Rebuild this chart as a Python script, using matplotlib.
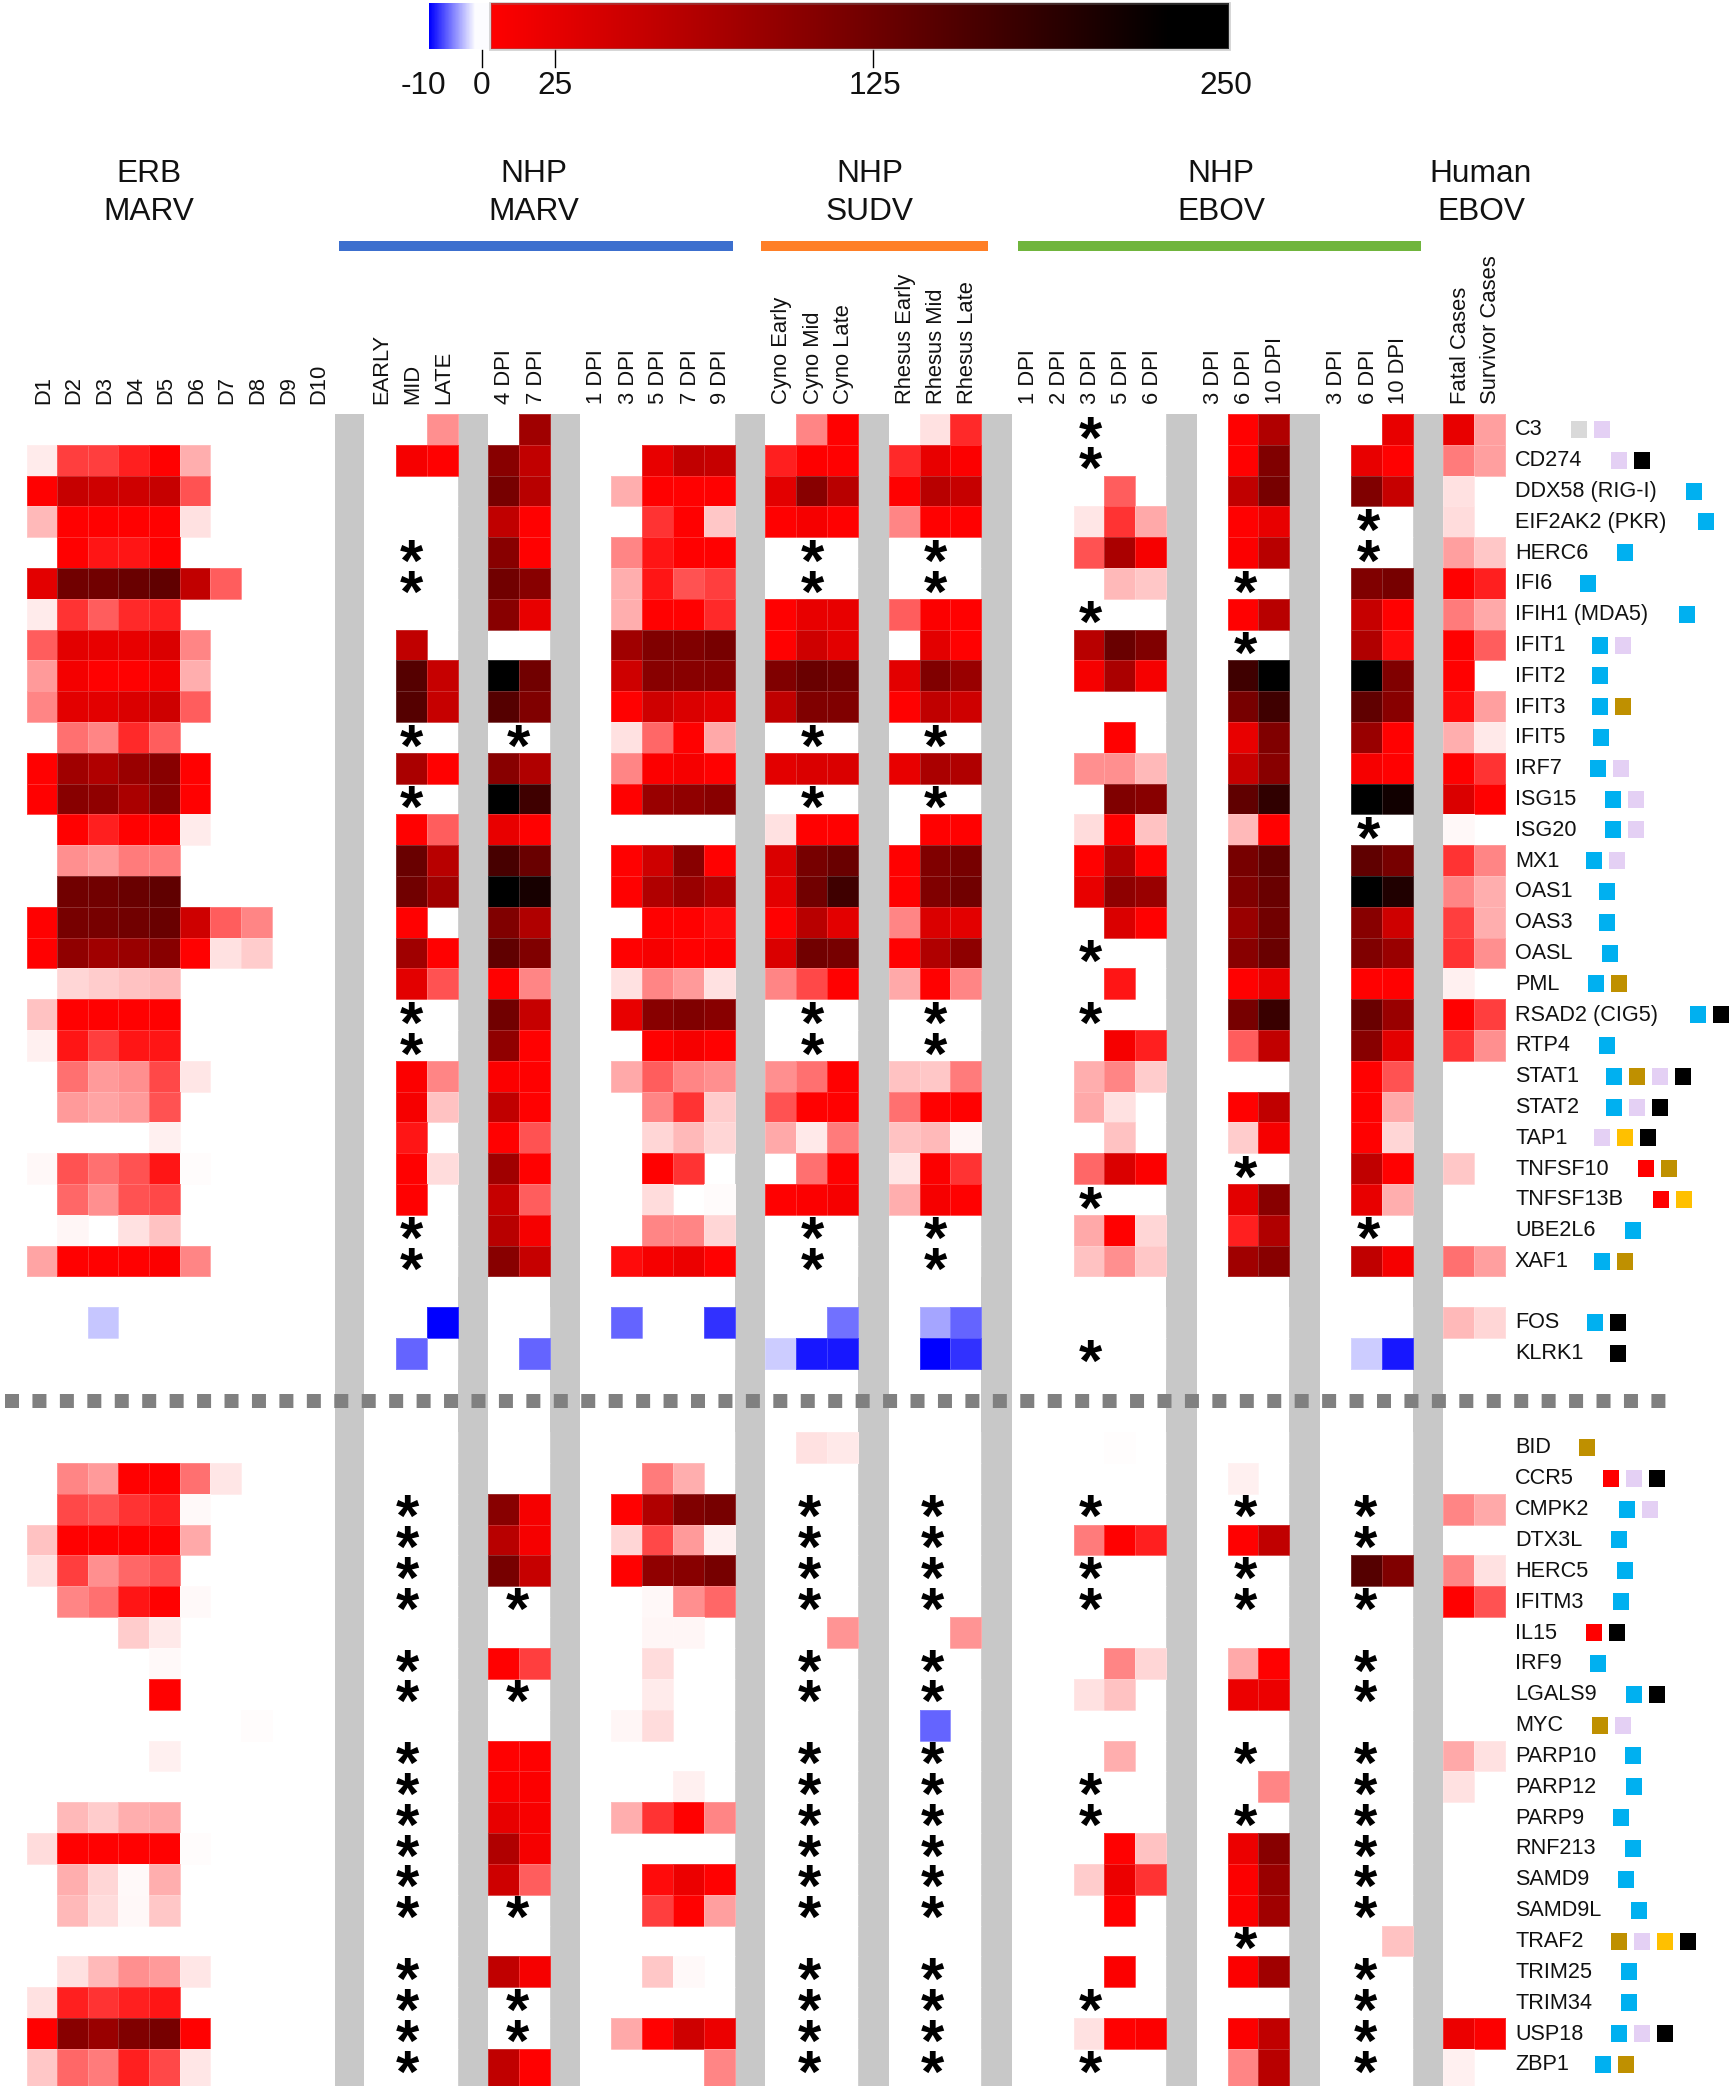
import numpy as np
import matplotlib
matplotlib.use("Agg")
import matplotlib.pyplot as plt
from matplotlib.colors import LinearSegmentedColormap, Normalize
from matplotlib.patches import Rectangle

plt.rcParams['font.family'] = ['Liberation Sans', 'DejaVu Sans']

### genes, row by row ###
genes = ['C3', 'CD274', 'DDX58 (RIG-I)', 'EIF2AK2 (PKR)', 'HERC6', 'IFI6', 'IFIH1 (MDA5)', 'IFIT1', 'IFIT2', 'IFIT3',
         'IFIT5', 'IRF7', 'ISG15', 'ISG20', 'MX1', 'OAS1', 'OAS3', 'OASL', 'PML', 'RSAD2 (CIG5)', 'RTP4', 'STAT1',
         'STAT2', 'TAP1', 'TNFSF10', 'TNFSF13B', 'UBE2L6', 'XAF1', 'FOS', 'KLRK1',
         'BID', 'CCR5', 'CMPK2', 'DTX3L', 'HERC5', 'IFITM3', 'IL15', 'IRF9', 'LGALS9', 'MYC', 'PARP10', 'PARP12',
         'PARP9', 'RNF213', 'SAMD9', 'SAMD9L', 'TRAF2', 'TRIM25', 'TRIM34', 'USP18', 'ZBP1']

### fold change values, one list per panel, same gene order ###
erb_cols = ['D1', 'D2', 'D3', 'D4', 'D5', 'D6', 'D7', 'D8', 'D9', 'D10']
erb = [
    [0, 0, 0, 0, 0, 0, 0, 0, 0, 0], [2, 19, 19, 22, 25, 8, 0, 0, 0, 0], [25, 75, 68, 68, 75, 17, 0, 0, 0, 0],
    [7, 25, 25, 25, 25, 3, 0, 0, 0, 0], [0, 25, 23, 23, 25, 0, 0, 0, 0, 0], [50, 150, 150, 157, 165, 80, 16, 0, 0, 0],
    [2, 20, 16, 21, 22, 0, 0, 0, 0, 0], [16, 50, 45, 45, 58, 12, 0, 0, 0, 0], [10, 35, 25, 25, 35, 8, 0, 0, 0, 0],
    [12, 50, 50, 58, 68, 16, 0, 0, 0, 0], [0, 14, 12, 21, 16, 0, 0, 0, 0, 0], [25, 109, 95, 115, 130, 25, 0, 0, 0, 0],
    [25, 130, 123, 100, 130, 25, 0, 0, 0, 0], [0, 25, 22, 25, 25, 2, 0, 0, 0, 0], [0, 11, 10, 13, 13, 0, 0, 0, 0, 0],
    [0, 150, 150, 157, 165, 0, 0, 0, 0, 0], [25, 145, 145, 150, 157, 68, 16, 12, 0, 0],
    [25, 123, 109, 115, 130, 25, 3, 5, 0, 0], [0, 4, 5, 6, 7, 0, 0, 0, 0, 0], [6, 25, 25, 25, 25, 0, 0, 0, 0, 0],
    [1.5, 23, 19, 23, 23, 0, 0, 0, 0, 0], [0, 14, 10, 11, 18, 2.5, 0, 0, 0, 0], [0, 10, 9, 10, 17, 0, 0, 0, 0, 0],
    [0, 0, 0, 0, 1.5, 0, 0, 0, 0, 0], [0.7, 17, 14, 17, 23, 0.4, 0, 0, 0, 0], [0, 15, 11, 17, 18, 0, 0, 0, 0, 0],
    [0, 1, 0, 3, 6, 0, 0, 0, 0, 0], [9, 25, 25, 25, 28, 12, 0, 0, 0, 0], [0, 0, -2.2, 0, 0, 0, 0, 0, 0, 0],
    [0, 0, 0, 0, 0, 0, 0, 0, 0, 0],
    [0, 0, 0, 0, 0, 0, 0, 0, 0, 0], [0, 12, 10, 25, 25, 14, 2.5, 0, 0, 0], [0, 18, 17, 20, 22, 0.6, 0, 0, 0, 0],
    [6, 25, 25, 25, 25, 8.5, 0, 0, 0, 0], [3, 19, 11, 15, 17, 0, 0, 0, 0, 0], [0, 12, 14, 23, 25, 0.6, 0, 0, 0, 0],
    [0, 0, 0, 5, 2.2, 0, 0, 0, 0, 0], [0, 0, 0, 0, 0.6, 0, 0, 0, 0, 0], [0, 0, 0, 0, 25, 0, 0, 0, 0, 0],
    [0, 0, 0, 0, 0, 0, 0, 0.4, 0, 0], [0, 0, 0, 0, 1.5, 0, 0, 0, 0, 0], [0, 0, 0, 0, 0, 0, 0, 0, 0, 0],
    [0, 7, 5, 8, 8.5, 0, 0, 0, 0, 0], [3.5, 25, 25, 25, 25, 0.4, 0, 0, 0, 0], [0, 8, 4, 0.6, 8, 0, 0, 0, 0, 0],
    [0, 7, 3.5, 0.7, 5.5, 0, 0, 0, 0, 0], [0, 0, 0, 0, 0, 0, 0, 0, 0, 0], [0, 3, 7, 11, 10, 2.5, 0, 0, 0, 0],
    [3, 22, 20, 22, 23, 0, 0, 0, 0, 0], [25, 130, 115, 137, 145, 25, 0, 0, 0, 0], [5.5, 15, 13, 22, 18, 2.5, 0, 0, 0, 0],
]

stage_cols = ['EARLY', 'MID', 'LATE']
marv_stage = [
    [0, 0, 11], [0, 33, 25], [0, 0, 0], [0, 0, 0], [0, 0, 0], [0, 0, 0], [0, 0, 0], [0, 81, 0], [0, 175, 75],
    [0, 175, 75], [0, 0, 0], [0, 100, 25], [0, 0, 0], [0, 25, 16], [0, 157, 88], [0, 150, 109], [0, 25, 0],
    [0, 109, 25], [0, 50, 17], [0, 0, 0], [0, 0, 0], [0, 28, 12], [0, 33, 6], [0, 23, 0], [0, 25, 3.5], [0, 25, 0],
    [0, 0, 0], [0, 0, 0], [0, 0, -10], [0, -6, 0],
    [0, 0, 0], [0, 0, 0], [0, 0, 0], [0, 0, 0], [0, 0, 0], [0, 0, 0], [0, 0, 0], [0, 0, 0], [0, 0, 0], [0, 0, 0],
    [0, 0, 0], [0, 0, 0], [0, 0, 0], [0, 0, 0], [0, 0, 0], [0, 0, 0], [0, 0, 0], [0, 0, 0], [0, 0, 0], [0, 0, 0],
    [0, 0, 0],
]

d47_cols = ['4 DPI', '7 DPI']
marv_d47 = [
    [0, 109], [130, 80], [145, 88], [81, 25], [130, 25], [150, 130], [130, 45], [0, 0], [250, 150], [175, 137],
    [0, 0], [130, 95], [250, 194], [45, 25], [187, 157], [250, 230], [137, 95], [165, 137], [25, 12], [150, 75],
    [123, 25], [28, 25], [81, 25], [25, 17], [109, 25], [75, 16], [88, 33], [130, 75], [0, 0], [0, -6],
    [0, 0], [0, 0], [130, 33], [88, 33], [145, 75], [0, 0], [0, 0], [25, 19], [0, 0], [0, 0], [25, 25], [28, 28],
    [45, 30], [95, 33], [68, 16], [0, 0], [0, 0], [81, 33], [0, 0], [0, 0], [81, 25],
]

marv_cols = ['1 DPI', '3 DPI', '5 DPI', '7 DPI', '9 DPI']
marv_time = [
    [0, 0, 0, 0, 0], [0, 0, 45, 80, 75], [0, 8, 25, 25, 25], [0, 0, 20, 25, 5.5], [0, 12, 23, 25, 25],
    [0, 8, 23, 17, 19], [0, 8, 25, 25, 21], [0, 109, 137, 137, 145], [0, 68, 130, 130, 130], [0, 25, 68, 58, 50],
    [0, 3, 15, 25, 8.5], [0, 12, 28, 33, 25], [0, 25, 115, 123, 130], [0, 0, 0, 0, 0], [0, 25, 68, 130, 25],
    [0, 25, 95, 115, 95], [0, 0, 25, 25, 24], [0, 25, 33, 25, 28], [0, 3, 12, 10, 3], [0, 45, 130, 137, 130],
    [0, 0, 25, 33, 25], [0, 8.5, 16, 12, 11], [0, 0, 12, 20, 5], [0, 0, 4, 7, 4], [0, 0, 25, 20, 0],
    [0, 0, 3.5, 0, 0.5], [0, 0, 12, 12, 4], [0, 24, 33, 42, 25], [0, -6, 0, 0, -8], [0, 0, 0, 0, 0],
    [0, 0, 0, 0, 0], [0, 0, 13, 8, 0], [0, 25, 95, 137, 145], [0, 4, 18, 10, 1.5], [0, 25, 123, 130, 145],
    [0, 0, 0.7, 11, 15], [0, 0, 1, 1, 0], [0, 0, 3.5, 0, 0], [0, 0, 2, 0, 0], [0, 1, 3.5, 0, 0], [0, 0, 0, 0, 0],
    [0, 0, 0, 1.5, 0], [0, 8, 20, 25, 12], [0, 0, 0, 0, 0], [0, 0, 24, 42, 25], [0, 0, 19, 25, 9.5], [0, 0, 0, 0, 0],
    [0, 0, 5.5, 0.6, 0], [0, 0, 0, 0, 0], [0, 8.5, 25, 68, 42], [0, 0, 0, 0, 12],
]

cyno_cols = ['Cyno Early', 'Cyno Mid', 'Cyno Late']
cyno = [
    [0, 12, 25], [22, 26, 25], [50, 130, 88], [25, 33, 25], [0, 0, 0], [0, 0, 0], [25, 45, 45], [25, 68, 50],
    [137, 157, 150], [81, 137, 137], [0, 0, 0], [50, 58, 58], [0, 0, 0], [3, 25, 25], [58, 145, 157], [50, 150, 194],
    [25, 88, 50], [58, 150, 145], [12, 18, 25], [0, 0, 0], [0, 0, 0], [11, 14, 25], [17, 25, 25], [8.5, 2.2, 13],
    [0, 14, 25], [25, 28, 33], [0, 0, 0], [0, 0, 0], [0, 0, -5.5], [-2, -9, -9],
    [0, 3, 2.2], [0, 0, 0], [0, 0, 0], [0, 0, 0], [0, 0, 0], [0, 0, 0], [0, 0, 10.5], [0, 0, 0], [0, 0, 0], [0, 0, 0],
    [0, 0, 0], [0, 0, 0], [0, 0, 0], [0, 0, 0], [0, 0, 0], [0, 0, 0], [0, 0, 0], [0, 0, 0], [0, 0, 0], [0, 0, 0],
    [0, 0, 0],
]

rhesus_cols = ['Rhesus Early', 'Rhesus Mid', 'Rhesus Late']
rhesus = [
    [0, 3, 21], [21, 45, 28], [25, 88, 75], [12, 25, 25], [0, 0, 0], [0, 0, 0], [16, 28, 25], [0, 50, 25],
    [50, 137, 115], [25, 81, 68], [0, 0, 0], [45, 100, 95], [0, 0, 0], [0, 25, 25], [25, 137, 145], [25, 137, 150],
    [12, 58, 50], [25, 95, 125], [8.5, 25, 12], [0, 0, 0], [0, 0, 0], [6, 5.5, 13], [14, 25, 25], [6, 7, 1],
    [2.5, 28, 20], [8, 33, 25], [0, 0, 0], [0, 0, 0], [0, -3.5, -6], [0, -10, -8],
    [0, 0, 0], [0, 0, 0], [0, 0, 0], [0, 0, 0], [0, 0, 0], [0, 0, 0], [0, 0, 10.5], [0, 0, 0], [0, 0, 0], [0, -6, 0],
    [0, 0, 0], [0, 0, 0], [0, 0, 0], [0, 0, 0], [0, 0, 0], [0, 0, 0], [0, 0, 0], [0, 0, 0], [0, 0, 0], [0, 0, 0],
    [0, 0, 0],
]

ebov_cols = ['1 DPI', '2 DPI', '3 DPI', '5 DPI', '6 DPI']
ebov_a = [
    [0, 0, 0, 0, 0], [0, 0, 0, 0, 0], [0, 0, 0, 16, 0], [0, 0, 2.5, 20, 8.5], [0, 0, 17, 100, 33], [0, 0, 0, 7, 5.5],
    [0, 0, 0, 0, 0], [0, 0, 88, 157, 137], [0, 0, 33, 100, 33], [0, 0, 0, 0, 0], [0, 0, 0, 25, 0], [0, 0, 11, 11, 7],
    [0, 0, 0, 137, 130], [0, 0, 3.5, 25, 6], [0, 0, 25, 95, 25], [0, 0, 45, 125, 115], [0, 0, 0, 58, 25],
    [0, 0, 0, 0, 0], [0, 0, 0, 23, 0], [0, 0, 0, 0, 0], [0, 0, 0, 33, 22], [0, 0, 8, 12, 5], [0, 0, 8.5, 3, 0],
    [0, 0, 0, 6, 0], [0, 0, 15, 58, 28], [0, 0, 0, 0, 0], [0, 0, 8.5, 25, 4], [0, 0, 6, 11, 5.5], [0, 0, 0, 0, 0],
    [0, 0, 0, 0, 0],
    [0, 0, 0, 0.2, 0], [0, 0, 0, 0, 0], [0, 0, 0, 0, 0], [0, 0, 13, 25, 22], [0, 0, 0, 0, 0], [0, 0, 0, 0, 0],
    [0, 0, 0, 0, 0], [0, 0, 0, 12, 4], [0, 0, 3, 6, 0], [0, 0, 0, 0, 0], [0, 0, 0, 8, 0], [0, 0, 0, 0, 0],
    [0, 0, 0, 0, 0], [0, 0, 0, 25, 6], [0, 0, 5, 42, 20], [0, 0, 0, 25, 0], [0, 0, 0, 0, 0], [0, 0, 0, 28, 0],
    [0, 0, 0, 0, 0], [0, 0, 3, 25, 28], [0, 0, 0, 0, 0],
]

dpi_cols = ['3 DPI', '6 DPI', '10 DPI']
ebov_b = [
    [0, 25, 95], [0, 25, 137], [0, 81, 145], [0, 25, 45], [0, 28, 88], [0, 0, 0], [0, 25, 88],
    [0, 0, 0], [0, 194, 250], [0, 145, 194], [0, 45, 137], [0, 75, 130], [0, 165, 208], [0, 7, 25], [0, 145, 165],
    [0, 137, 157], [0, 115, 150], [0, 130, 157], [0, 25, 45], [0, 145, 200], [0, 16, 80], [0, 0, 0], [0, 25, 81],
    [0, 5, 33], [0, 0, 0], [0, 50, 130], [0, 22, 95], [0, 109, 130], [0, 0, 0], [0, 0, 0],
    [0, 0, 0], [0, 1.5, 0], [0, 0, 0], [0, 25, 81], [0, 0, 0], [0, 0, 0], [0, 0, 0], [0, 8.5, 25], [0, 42, 42],
    [0, 0, 0], [0, 0, 0], [0, 0, 12], [0, 0, 0], [0, 42, 130], [0, 28, 115], [0, 28, 109], [0, 0, 0], [0, 28, 109],
    [0, 0, 0], [0, 28, 81], [0, 12, 88],
]
ebov_c = [
    [0, 0, 45], [0, 45, 25], [0, 137, 75], [0, 0, 0], [0, 0, 0], [0, 137, 145], [0, 75, 25], [0, 95, 24], [0, 250, 137],
    [0, 165, 130], [0, 115, 25], [0, 33, 25], [0, 250, 235], [0, 0, 0], [0, 165, 145], [0, 250, 222], [0, 130, 68],
    [0, 137, 115], [0, 25, 25], [0, 157, 115], [0, 130, 50], [0, 25, 17], [0, 25, 8.5], [0, 25, 4], [0, 81, 25],
    [0, 45, 8], [0, 0, 0], [0, 81, 33], [0, 0, 0], [0, -2, -9],
    [0, 0, 0], [0, 0, 0], [0, 0, 0], [0, 0, 0], [0, 175, 137], [0, 0, 0], [0, 0, 0], [0, 0, 0], [0, 0, 0], [0, 0, 0],
    [0, 0, 0], [0, 0, 0], [0, 0, 0], [0, 0, 0], [0, 0, 0], [0, 0, 0], [0, 0, 6], [0, 0, 0], [0, 0, 0], [0, 0, 0],
    [0, 0, 0],
]

human_cols = ['Fatal Cases', 'Survivor Cases']
human = [
    [45, 9.5], [13, 9.5], [3, 0], [3.5, 0], [9.5, 5.5], [25, 22], [13, 8.5], [25, 16], [25, 0], [24, 9.5], [8, 2.2],
    [25, 20], [58, 25], [0.7, 0], [20, 12], [12, 8], [19, 8], [20, 11], [1.5, 0], [25, 19], [20, 11], [0, 0], [0, 0],
    [0, 0], [5.5, 0], [0, 0], [0, 0], [14, 9.5], [7, 4], [0, 0],
    [0, 0], [0, 0], [12, 8.5], [0, 0], [12, 3], [25, 17], [0, 0], [0, 0], [0, 0], [0, 0], [8.5, 3], [3, 0], [0, 0],
    [0, 0], [0, 0], [0, 0], [0, 0], [0, 0], [0, 0], [42, 28], [1.5, 0],
]

### significance stars ###
stars_common = ['HERC6', 'IFI6', 'IFIT5', 'ISG15', 'RSAD2 (CIG5)', 'RTP4', 'UBE2L6', 'XAF1',
                'CMPK2', 'DTX3L', 'HERC5', 'IFITM3', 'IRF9', 'LGALS9', 'PARP10', 'PARP12', 'PARP9', 'RNF213',
                'SAMD9', 'SAMD9L', 'TRIM25', 'TRIM34', 'USP18', 'ZBP1']
stars_d47 = ['IFIT5', 'IFITM3', 'LGALS9', 'SAMD9L', 'TRIM34', 'USP18']
stars_ebov_a = ['C3', 'CD274', 'IFIH1 (MDA5)', 'OASL', 'RSAD2 (CIG5)', 'TNFSF13B', 'KLRK1', 'CMPK2', 'HERC5', 'IFITM3',
                'PARP12', 'PARP9', 'TRIM34', 'ZBP1']
stars_ebov_b = ['IFI6', 'IFIT1', 'TNFSF10', 'CMPK2', 'HERC5', 'IFITM3', 'PARP10', 'PARP9', 'TRAF2']
stars_ebov_c = ['EIF2AK2 (PKR)', 'HERC6', 'ISG20', 'UBE2L6', 'CMPK2', 'DTX3L', 'IFITM3', 'IRF9', 'LGALS9', 'PARP10',
                'PARP12', 'PARP9', 'RNF213', 'SAMD9', 'SAMD9L', 'TRIM25', 'TRIM34', 'USP18', 'ZBP1']

### coloured tags next to the gene names ###
tags = [['gray', 'lav'], ['lav', 'k'], ['b'], ['b'], ['b'], ['b'], ['b'], ['b', 'lav'], ['b'], ['b', 'gold'], ['b'],
        ['b', 'lav'], ['b', 'lav'], ['b', 'lav'], ['b', 'lav'], ['b'], ['b'], ['b'], ['b', 'gold'], ['b', 'k'], ['b'],
        ['b', 'gold', 'lav', 'k'], ['b', 'lav', 'k'], ['lav', 'yel', 'k'], ['r', 'gold'], ['r', 'yel'], ['b'],
        ['b', 'gold'], ['b', 'k'], ['k'],
        ['gold'], ['r', 'lav', 'k'], ['b', 'lav'], ['b'], ['b'], ['b'], ['r', 'k'], ['b'], ['b', 'k'], ['gold', 'lav'],
        ['b'], ['b'], ['b'], ['b'], ['b'], ['b'], ['gold', 'lav', 'yel', 'k'], ['b'], ['b'], ['b', 'lav', 'k'],
        ['b', 'gold']]

scale_ticks = [-10, 0, 25, 125, 250]

### layout in reference pixels ###
W, H = 1732, 2086
tag_colors = {'b': '#00b0f0', 'lav': '#e4d0f4', 'k': 'black', 'gold': '#bf9000', 'r': '#ff0000', 'yel': '#ffc000',
              'gray': '#d9d9d9'}
tag_x = [1571, 1611, 1686, 1698, 1617, 1580, 1679, 1592, 1592, 1592, 1593, 1590, 1605, 1605, 1586, 1599, 1599, 1602,
         1588, 1690, 1599, 1606, 1606, 1594, 1638, 1653, 1625, 1594, 1587, 1610,
         1579, 1603, 1619, 1611, 1617, 1613, 1586, 1590, 1626, 1592, 1625, 1626, 1613, 1625, 1618, 1631, 1611, 1621,
         1621, 1611, 1595]
n_upper = 30
row_h_upper, row_h_lower = 30.8, 30.85
top_upper, top_extra, top_lower = 414, 1307, 1432

panels = [(erb, erb_cols, 26.5, 333), (marv_stage, stage_cols, 365, 458), (marv_d47, d47_cols, 488, 550),
          (marv_time, marv_cols, 580, 735), (cyno, cyno_cols, 765, 858), (rhesus, rhesus_cols, 889, 981),
          (ebov_a, ebov_cols, 1012, 1166), (ebov_b, dpi_cols, 1197, 1289), (ebov_c, dpi_cols, 1320, 1413),
          (human, human_cols, 1443, 1505)]
bands = [(335, 364), (458, 488), (550, 580), (735, 765), (858, 889), (981, 1012), (1166, 1197), (1289, 1320),
         (1413, 1443)]


def row_top(i):
    if i < 28:
        return top_upper + i * row_h_upper
    if i < n_upper:
        return top_extra + (i - 28) * row_h_upper
    return top_lower + (i - n_upper) * row_h_lower


def row_mid(i):
    return row_top(i) + (row_h_upper if i < n_upper else row_h_lower) / 2


cmap = LinearSegmentedColormap.from_list('fc', [(0, '#0000ff'), (10 / 260, '#ffffff'), (35 / 260, '#ff0000'),
                                                (1, '#000000')], N=2048)
norm = Normalize(-10, 250)

fig = plt.figure(figsize=(W / 100, H / 100), dpi=100)
ax = fig.add_axes([0, 0, 1, 1])
ax.set_xlim(0, W)
ax.set_ylim(H, 0)
ax.axis('off')

# gray separators behind everything
for x0, x1 in bands:
    ax.add_patch(Rectangle((x0, top_upper), x1 - x0, H - top_upper, color='#c8c8c8', lw=0, zorder=1))

# heatmap blocks
blocks = [(0, 28), (28, 30), (30, 51)]
for values, cols, x0, x1 in panels:
    arr = np.ma.masked_equal(np.array(values, dtype=float), 0)
    xe = np.linspace(x0, x1, len(cols) + 1)
    for a, b in blocks:
        h = row_h_upper if a < n_upper else row_h_lower
        ye = row_top(a) + np.arange(b - a + 1) * h
        if b == len(genes):
            ye[-1] = H  # last row runs off the bottom of the page
        ax.pcolormesh(xe, ye, arr[a:b], cmap=cmap, norm=norm, edgecolors=(1, 1, 1, 0.18), linewidth=0.5, zorder=2)
    for c, name in zip((xe[:-1] + xe[1:]) / 2, cols):
        ax.text(c + 1.5, 404, name, rotation=90, ha='center', va='bottom', fontsize=15.8, color='#111111')


def put_stars(names, x_up, x_low):
    for name in names:
        i = genes.index(name)
        x = x_up if i < n_upper else x_low
        # asterisk ink sits high in the em box, so shift the baseline down
        ax.text(x, row_mid(i) + (28 if i < n_upper else 27), '*', fontsize=43, fontweight='bold', ha='center',
                va='baseline', color='black', zorder=4)


put_stars(stars_common, 411, 407)
put_stars(stars_d47, 518, 517)
put_stars(stars_common, 812, 809)
put_stars(stars_common, 935, 932)
put_stars(stars_ebov_a, 1090, 1090)
put_stars(stars_ebov_b, 1245, 1245)
put_stars(stars_ebov_c, 1368, 1365)

# gene names and their tags
for i, name in enumerate(genes):
    ax.text(1515, row_mid(i) + 0.5, name, fontsize=15.6, ha='left', va='center', color='#111111')
    for k, t in enumerate(tags[i]):
        ax.add_patch(Rectangle((tag_x[i] + k * 23, row_mid(i) - 8.5), 16, 17, color=tag_colors[t], lw=0))

# dashed divider
ax.plot([5, 1669], [1401, 1401], color='#808080', lw=10.08, ls=(0, (1, 0.96)), dash_capstyle='butt', zorder=3)

# header text and coloured bars
for x, top, bottom in [(149, 'ERB', 'MARV'), (534, 'NHP', 'MARV'), (870, 'NHP', 'SUDV'), (1221, 'NHP', 'EBOV'),
                       (1481, 'Human', 'EBOV')]:
    ax.text(x, 173.5, top, fontsize=22.8, ha='center', va='center', color='#111111')
    ax.text(x, 211.5, bottom, fontsize=22.8, ha='center', va='center', color='#111111')
for x0, x1, col in [(339, 733, '#3c6fce'), (761, 988, '#ff7f27'), (1018, 1421, '#70b53d')]:
    ax.add_patch(Rectangle((x0, 241), x1 - x0, 10, color=col, lw=0))

# colour scale on top
grad_x = np.linspace(429, 1229, 801)
grad = np.interp(grad_x, [429, 475, 490, 490.5, 1170, 1229], [-10, 0, 0, 25, 250, 250])
ax.imshow(grad[np.newaxis, :], extent=(429, 1229, 49, 3), cmap=cmap, norm=norm, aspect='auto', zorder=2)
ax.set_xlim(0, W)
ax.set_ylim(H, 0)
ax.add_patch(Rectangle((490, 3), 739, 46, fill=False, edgecolor='#808080', alpha=0.35, lw=2, zorder=3))
tick_px = [423, 482, 555, 875, 1226]
for v, x in zip(scale_ticks, tick_px):
    ax.text(x, 86.5, str(v), fontsize=22.8, ha='center', va='center', color='#111111')
    if v in (0, 25, 125):
        ax.plot([x - 2 if v == 125 else x] * 2, [50, 67], color='black', lw=1)

fig.savefig('out.png', dpi=100)
